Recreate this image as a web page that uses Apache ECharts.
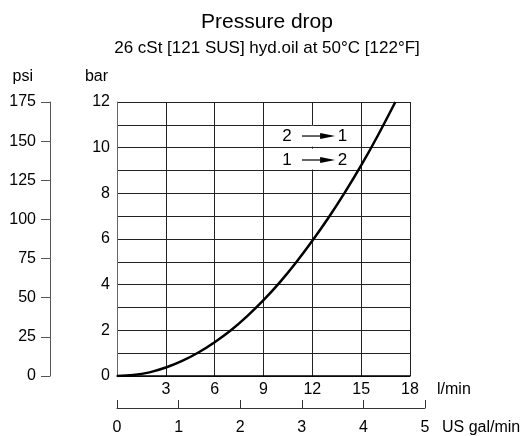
<!DOCTYPE html>
<html>
<head>
<meta charset="utf-8">
<script src="https://cdn.jsdelivr.net/npm/echarts@6/dist/echarts.min.js"></script>
<style>html,body{margin:0;padding:0;background:#fff}#c{width:524px;height:436px}</style>
</head>
<body>
<div id="c"></div>
<script>
// ---- data ----
var flowLpm     = [0, 1, 2, 3, 4, 5, 6, 7, 8, 9, 10, 11, 12, 13, 14, 15, 16, 17.1];
var pressureBar = [0, 0.04, 0.16, 0.37, 0.66, 1.03, 1.48, 2.0, 2.62, 3.32, 4.1, 4.97, 5.92, 6.94, 8.04, 9.22, 10.5, 12.0];
var lpmTicks = [0, 3, 6, 9, 12, 15, 18];
var barRange = [0, 12];
var psiRange = [0, 175];
var galRange = [0, 5];
var titleText = 'Pressure drop';
var subtitleText = '26 cSt [121 SUS] hyd.oil at 50°C [122°F]';
var arrowRows = [['2', '1'], ['1', '2']];

var FONT = "'Liberation Sans', Arial, sans-serif";
var FS = 16;
var chart = echarts.init(document.getElementById('c'), null, {renderer: 'canvas'});

var points = flowLpm.map(function (x, i) { return [x, pressureBar[i]]; });

var option = {
  animation: false,
  backgroundColor: '#fff',
  textStyle: {fontFamily: FONT, color: '#000'},
  title: {
    text: titleText,
    subtext: subtitleText,
    left: 267,
    textAlign: 'center',
    top: 12,
    itemGap: 7,
    padding: 0,
    textStyle: {fontFamily: FONT, fontSize: 21, fontWeight: 'normal', color: '#000'},
    subtextStyle: {fontFamily: FONT, fontSize: 17, color: '#000'}
  },
  grid: [
    {left: 117, top: 102, width: 293, height: 274, containLabel: false},
    {left: 117, top: 407, width: 308, height: 1, containLabel: false}
  ],
  xAxis: [
    {
      type: 'value', gridIndex: 0, min: lpmTicks[0], max: lpmTicks[lpmTicks.length - 1], interval: 3,
      name: 'l/min', nameLocation: 'end', nameGap: 27,
      nameTextStyle: {fontFamily: FONT, fontSize: FS, color: '#000', verticalAlign: 'top', padding: [6, 0, 0, 0]},
      axisLine: {show: true, onZero: false, lineStyle: {color: '#000', width: 1.5}},
      axisTick: {show: false},
      axisLabel: {fontFamily: FONT, fontSize: FS, color: '#000', margin: 6,
        formatter: function (v) { return v === 0 ? '' : String(v); }},
      splitLine: {show: true, lineStyle: {color: '#222', width: 1}}
    },
    {
      type: 'value', gridIndex: 1, min: galRange[0], max: galRange[1], interval: 1,
      name: 'US gal/min', nameLocation: 'end', nameGap: 17,
      nameTextStyle: {fontFamily: FONT, fontSize: FS, color: '#000', verticalAlign: 'top', padding: [12, 0, 0, 0]},
      axisLine: {show: true, onZero: false, lineStyle: {color: '#333', width: 1}},
      axisTick: {show: true, inside: true, length: 8, lineStyle: {color: '#333', width: 1}},
      axisLabel: {fontFamily: FONT, fontSize: FS, color: '#000', margin: 12},
      splitLine: {show: false}
    }
  ],
  yAxis: [
    {
      type: 'value', gridIndex: 0, min: barRange[0], max: barRange[1], interval: 1,
      name: 'bar', nameLocation: 'end', nameGap: 17,
      nameTextStyle: {fontFamily: FONT, fontSize: FS, color: '#000', align: 'right', verticalAlign: 'bottom', padding: [0, 9, 0, 0]},
      axisLine: {show: true, onZero: false, lineStyle: {color: '#666', width: 1}},
      axisTick: {show: false},
      axisLabel: {fontFamily: FONT, fontSize: FS, color: '#000', margin: 7,
        formatter: function (v) { return v % 2 === 0 ? String(v) : ''; }},
      splitLine: {show: true, lineStyle: {color: '#222', width: 1}}
    },
    {
      type: 'value', gridIndex: 0, position: 'left', offset: 67,
      min: psiRange[0], max: psiRange[1], interval: 25,
      name: 'psi', nameLocation: 'end', nameGap: 17,
      nameTextStyle: {fontFamily: FONT, fontSize: FS, color: '#000', align: 'right', verticalAlign: 'bottom', padding: [0, 17, 0, 0]},
      axisLine: {show: true, onZero: false, lineStyle: {color: '#555', width: 1}},
      axisTick: {show: true, inside: false, length: 9, lineStyle: {color: '#555', width: 1}},
      axisLabel: {fontFamily: FONT, fontSize: FS, color: '#000', margin: 14},
      splitLine: {show: false}
    },
    {
      type: 'value', gridIndex: 1, min: 0, max: 1, show: false
    }
  ],
  series: [
    {
      type: 'line', xAxisIndex: 0, yAxisIndex: 0,
      data: points, smooth: 0.35, symbol: 'none', clip: true,
      lineStyle: {color: '#000', width: 2.5}
    }
  ]
};
chart.setOption(option);

// annotation box (white gap in the 12 l/min gridline) and arrows
function px(x, y) { return chart.convertToPixel({xAxisIndex: 0, yAxisIndex: 0}, [x, y]); }
var g = [];
var a = px(12, 11), b = px(12, 10), c = px(12, 9);
g.push({type: 'rect', shape: {x: a[0] - 2, y: a[1] + 1, width: 4, height: b[1] - a[1] - 2}, style: {fill: '#fff'}, z: 10});
g.push({type: 'rect', shape: {x: b[0] - 2, y: b[1] + 1, width: 4, height: c[1] - b[1] - 2}, style: {fill: '#fff'}, z: 10});
var rowY = [10.51, 9.46];
arrowRows.forEach(function (r, i) {
  var pL = px(10.44, rowY[i]), pR = px(13.85, rowY[i]);
  var s = px(11.36, rowY[i]), e = px(13.4, rowY[i]);
  var y = pL[1];
  g.push({type: 'text', x: pL[0], y: y, z: 11, style: {text: r[0], fontFamily: FONT, fontSize: 17, fill: '#000', align: 'center', verticalAlign: 'middle'}});
  g.push({type: 'text', x: pR[0], y: y, z: 11, style: {text: r[1], fontFamily: FONT, fontSize: 17, fill: '#000', align: 'center', verticalAlign: 'middle'}});
  g.push({type: 'line', z: 11, shape: {x1: s[0], y1: y, x2: e[0] - 10, y2: y}, style: {stroke: '#000', lineWidth: 1.2}});
  g.push({type: 'polygon', z: 11, shape: {points: [[e[0] - 15, y - 3], [e[0], y], [e[0] - 15, y + 3]]}, style: {fill: '#000'}});
});
chart.setOption({graphic: g});
</script>
</body>
</html>
